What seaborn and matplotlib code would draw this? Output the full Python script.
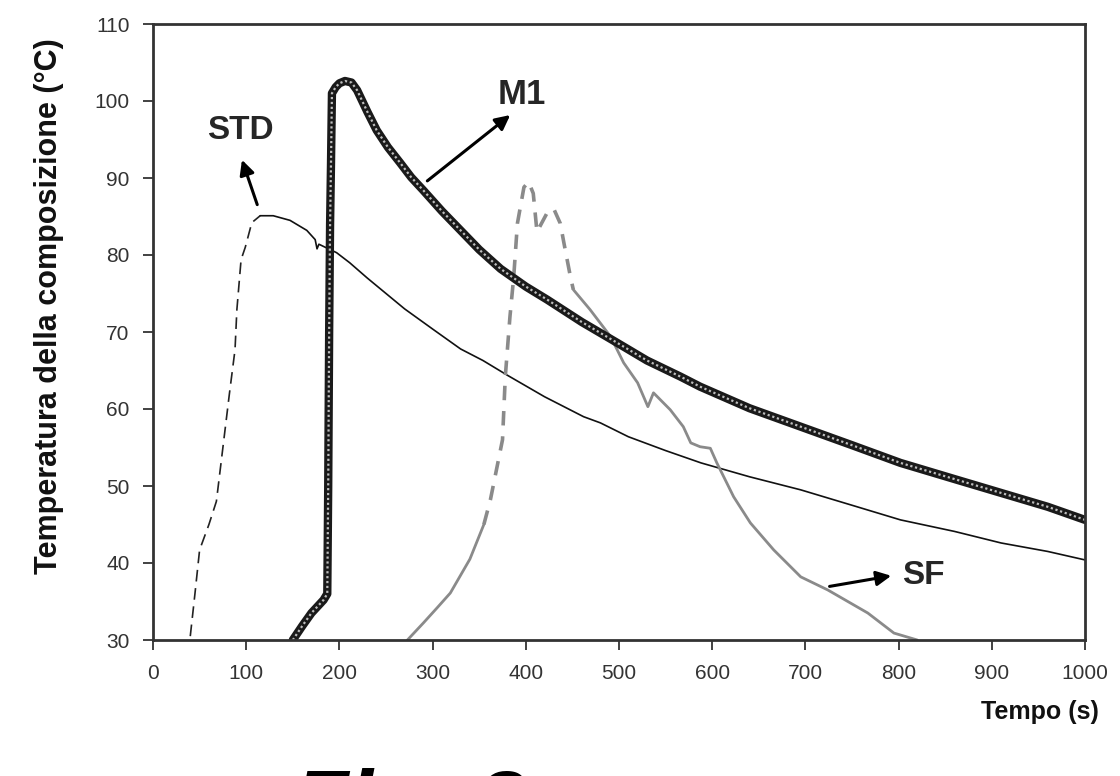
import numpy as np
import pandas as pd
import matplotlib
matplotlib.use("Agg")
import matplotlib.pyplot as plt
import seaborn as sns

# ---- data ----
std_rise_t = [40, 45, 50, 60, 68, 75, 82, 88, 90, 94.5, 99, 106, 115]
std_rise_T = [30.5, 36, 41.7, 45, 48, 55, 62, 67.7, 72.9, 79.4, 81, 84.2, 85.1]
std_fall_t = [115, 129, 147, 165, 174, 176, 178, 197, 211, 230, 247, 270, 301, 330, 354, 380,
              420, 462, 480, 510, 550, 588, 640, 695, 750, 802, 860, 910, 960, 1000]
std_fall_T = [85.1, 85.1, 84.5, 83.2, 82.0, 80.8, 81.4, 80.3, 79.0, 77.0, 75.3, 73.0, 70.3, 67.8, 66.3, 64.4,
              61.6, 59.0, 58.2, 56.4, 54.6, 53.0, 51.2, 49.5, 47.5, 45.6, 44.1, 42.6, 41.5, 40.4]

m1_t = [150, 160, 170, 183, 187, 188, 189, 190, 191, 192, 196, 200, 206, 213, 219, 230,
        240, 252, 265, 277, 290, 310, 330, 350, 373, 400, 423, 460, 498, 530, 566, 587, 640, 695,
        750, 802, 860, 910, 960, 1000]
m1_T = [30, 31.8, 33.5, 35.2, 36, 50, 70, 84, 92, 101, 101.8, 102.3, 102.6, 102.4, 101.4, 98.6,
        96.2, 94.0, 92.0, 90.1, 88.4, 85.7, 83.2, 80.7, 78.2, 75.9, 74.2, 71.3, 68.6, 66.3, 64.2, 62.9, 60.1, 57.7,
        55.3, 53, 50.9, 49.1, 47.3, 45.6]

sf_rise_t = [273, 290, 305, 319, 340, 355]
sf_rise_T = [30, 32.2, 34.2, 36.1, 40.5, 45.0]
sf_dash_t = [355, 362, 375, 378, 383, 387, 391, 398, 403, 408, 410, 412, 423, 430, 437, 441, 448, 451]
sf_dash_T = [45.0, 48.2, 56, 64.2, 72, 77.1, 84.1, 88.8, 89.5, 88, 85.5, 83, 85.5, 86, 84.1, 81.5, 77.1, 75.5]
sf_fall_t = [451, 469, 491, 498, 505, 520, 531, 537, 555, 569, 577, 587, 598, 605, 623,
             641, 666, 695, 724, 767, 795, 820]
sf_fall_T = [75.5, 72.9, 69.4, 67.7, 66, 63.4, 60.3, 62.1, 59.9, 57.7, 55.6, 55.1, 54.9, 53, 48.6,
             45.2, 41.7, 38.2, 36.5, 33.5, 30.9, 30]

x_ticks = [0, 100, 200, 300, 400, 500, 600, 700, 800, 900, 1000]
y_ticks = [30, 40, 50, 60, 70, 80, 90, 100, 110]

sns.set_theme(style="white")
plt.rcParams['font.family'] = ['Liberation Sans', 'DejaVu Sans']

fig = plt.figure(figsize=(11.2, 7.76), dpi=100)
ax = fig.add_axes([153/1120, 1-640/776, (1085-153)/1120, (640-24)/776])

def seg(t, T):
    return pd.DataFrame({"t": t, "T": T})

# STD
sns.lineplot(data=seg(std_rise_t, std_rise_T), x="t", y="T", ax=ax, color="#222222",
             lw=1.2, linestyle=(0, (7, 4)), sort=False)
sns.lineplot(data=seg(std_fall_t, std_fall_T), x="t", y="T", ax=ax, color="#111111",
             lw=1.2, sort=False)
# SF
sns.lineplot(data=seg(sf_rise_t, sf_rise_T), x="t", y="T", ax=ax, color="#8a8a8a",
             lw=2.0, sort=False)
sns.lineplot(data=seg(sf_dash_t, sf_dash_T), x="t", y="T", ax=ax, color="#8a8a8a",
             lw=2.6, linestyle=(0, (4, 3)), sort=False)
sns.lineplot(data=seg(sf_fall_t, sf_fall_T), x="t", y="T", ax=ax, color="#8a8a8a",
             lw=2.0, sort=False)
# M1 (thick hatched)
sns.lineplot(data=seg(m1_t, m1_T), x="t", y="T", ax=ax, color="#1a1a1a",
             lw=6.0, sort=False)
sns.lineplot(data=seg(m1_t, m1_T), x="t", y="T", ax=ax, color="#bdbdbd",
             lw=1.6, linestyle=(0, (1, 1.2)), sort=False)

ax.set_xlim(0, 1000)
ax.set_ylim(30, 110)
ax.set_xticks(x_ticks)
ax.set_yticks(y_ticks)
ax.set_xticklabels([str(v) for v in x_ticks], fontsize=15, color="#333333")
ax.set_yticklabels([str(v) for v in y_ticks], fontsize=15, color="#333333")
ax.tick_params(axis="both", direction="out", length=7, width=1.3, color="#333333",
               bottom=True, left=True, pad=10)
for s in ax.spines.values():
    s.set_color("#333333")
    s.set_linewidth(2.0)
ax.set_xlabel("")
ax.set_ylabel("Temperatura della composizione (°C)", fontsize=22, fontweight="bold",
              color="#111111")
ax.yaxis.set_label_coords((64-153)/932, (640-306)/616)

# annotations
arrow = dict(arrowstyle="-|>", color="black", lw=2.2, mutation_scale=22)
ax.annotate("", xy=(94.5, 92.7), xytext=(112.8, 86.2), arrowprops=arrow)
ax.text(93.4, 96.2, "STD", fontsize=24, fontweight="bold", ha="center", va="center")
ax.annotate("", xy=(385.6, 98.4), xytext=(292, 89.4), arrowprops=arrow)
ax.text(396, 100.8, "M1", fontsize=25, fontweight="bold", ha="center", va="center")
ax.annotate("", xy=(795, 38.4), xytext=(723, 36.9), arrowprops=arrow)
ax.text(827, 38.4, "SF", fontsize=24, fontweight="bold", ha="center", va="center")

fig.text(1040/1120, 1-712/776, "Tempo (s)", fontsize=18, fontweight="bold",
         ha="center", va="center", color="#111111")
fig.text(410/1120, 1-810/776, "Fig. 2", fontsize=64, fontweight="bold", style="italic",
         ha="center", va="center", color="black")

fig.savefig("out.png", dpi=100)
